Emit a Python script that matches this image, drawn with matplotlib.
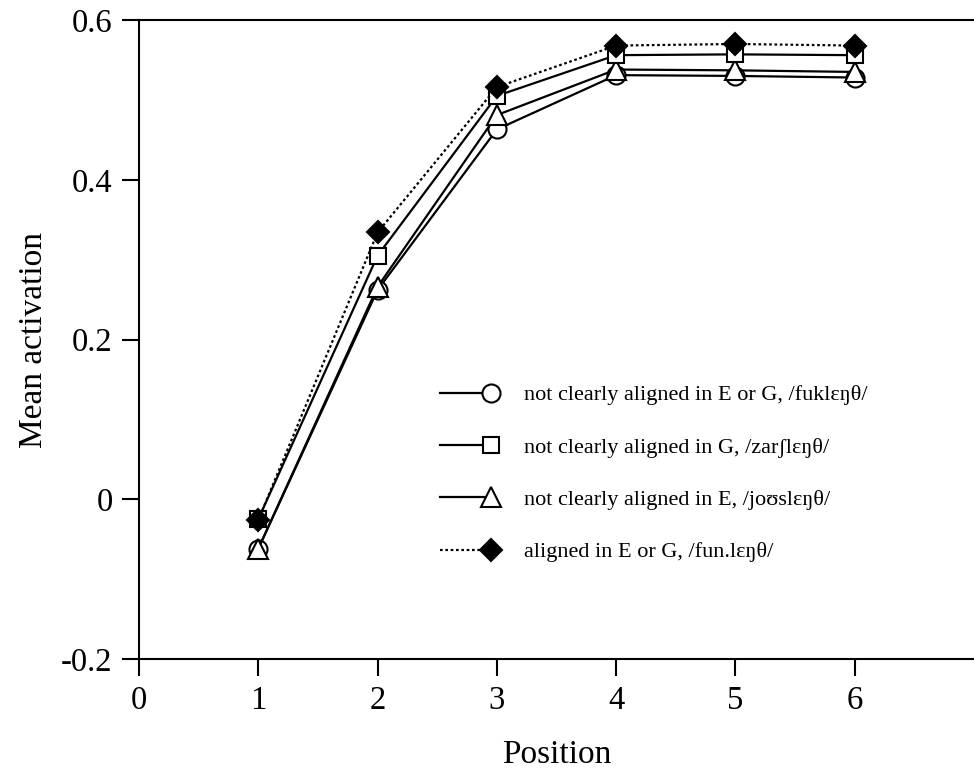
import matplotlib
matplotlib.use("Agg")
import matplotlib.pyplot as plt
from matplotlib.lines import Line2D
from matplotlib.legend_handler import HandlerLine2DCompound

plt.rcParams['font.family'] = ['Liberation Serif', 'DejaVu Serif']

positions = [1, 2, 3, 4, 5, 6]
fukleng = [-0.062, 0.262, 0.463, 0.531, 0.530, 0.528]
zarsleng = [-0.025, 0.305, 0.505, 0.556, 0.557, 0.556]
jousleng = [-0.062, 0.266, 0.481, 0.538, 0.537, 0.535]
funleng = [-0.026, 0.334, 0.516, 0.568, 0.570, 0.568]

labels = [
    "not clearly aligned in E or G, /fuklɛŋθ/",
    "not clearly aligned in G, /zarʃlɛŋθ/",
    "not clearly aligned in E, /joʊslɛŋθ/",
    "aligned in E or G, /fun.lɛŋθ/",
]


class EndMarkerHandler(HandlerLine2DCompound):
    # marker sits at the right end of the legend line
    def get_xdata(self, legend, xdescent, ydescent, width, height, fontsize):
        xdata = [-xdescent, -xdescent + width]
        return xdata, [-xdescent + width]


fig = plt.figure(figsize=(9.74, 7.73), dpi=100)
ax = fig.add_axes([0.1427, 0.1475, 0.8573, 0.8266])

lw = 1.6
mew = 1.5
l1, = ax.plot(positions, fukleng, '-', color='black', lw=lw, marker='o', ms=13,
              mfc='white', mec='black', mew=mew, zorder=2, label=labels[0])
l3, = ax.plot(positions, jousleng, '-', color='black', lw=lw, marker='^', ms=14,
              mfc='white', mec='black', mew=mew, zorder=3, label=labels[2])
l2, = ax.plot(positions, zarsleng, '-', color='black', lw=lw, marker='s', ms=12,
              mfc='white', mec='black', mew=mew, zorder=4, label=labels[1])
l4, = ax.plot(positions, funleng, color='black', lw=lw, ls=(0, (1.2, 1.2)),
              marker='D', ms=11.5, mfc='black', mec='black', mew=mew, zorder=5,
              label=labels[3])

ax.set_xlim(0, 7)
ax.set_ylim(-0.2, 0.6)
ax.set_xticks([0, 1, 2, 3, 4, 5, 6])
ax.set_yticks([-0.2, 0, 0.2, 0.4, 0.6])
ax.set_yticklabels(['-0.2', '0', '0.2', '0.4', '0.6'])
ax.spines['right'].set_visible(False)
for s in ['left', 'bottom', 'top']:
    ax.spines[s].set_linewidth(1.5)
ax.tick_params(direction='out', length=12, width=1.5, labelsize=23.5, pad=7)

ax.set_xlabel('Position', fontsize=24, labelpad=17)
ax.set_ylabel('Mean activation', fontsize=24, labelpad=9)

ax.legend(handles=[l1, l2, l3, l4], loc='upper left', bbox_to_anchor=(0.36, 0.429),
          frameon=False, fontsize=16, handlelength=2.3, handletextpad=1.5,
          labelspacing=1.43, borderpad=0, borderaxespad=0, numpoints=1,
          handler_map={Line2D: EndMarkerHandler()})

fig.savefig('out.png', dpi=100)
